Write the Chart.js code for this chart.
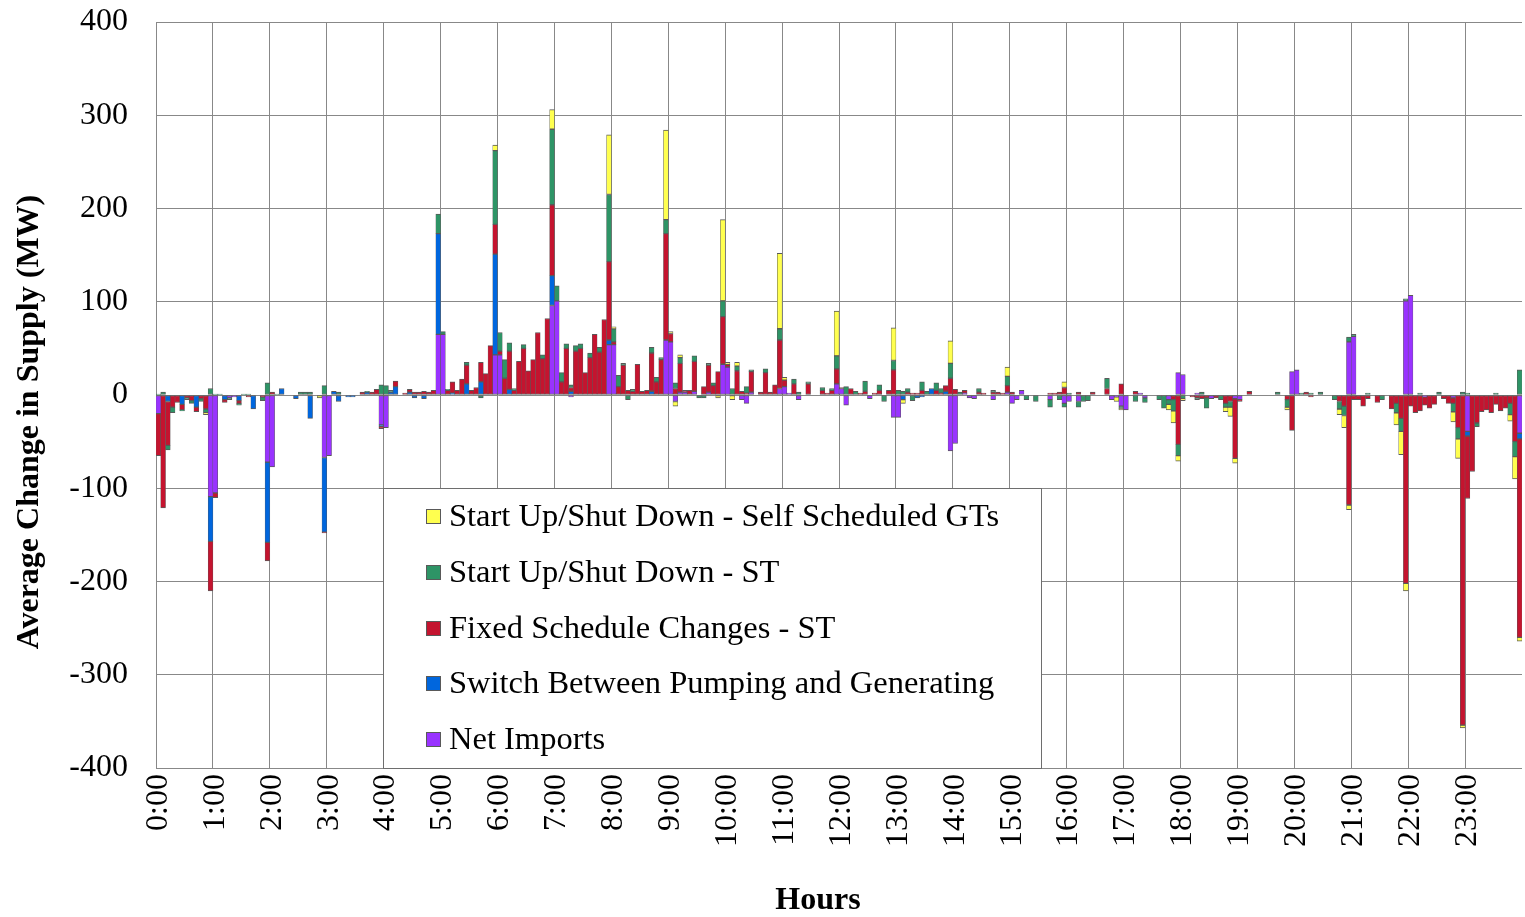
<!DOCTYPE html>
<html><head><meta charset="utf-8">
<script src="https://cdn.jsdelivr.net/npm/chart.js@4.4.1/dist/chart.umd.min.js"></script>
<style>html,body{margin:0;padding:0;background:#fff}#wrap{width:1525px;height:917px;position:relative}</style>
</head><body><div id="wrap"><canvas id="c"></canvas></div>
<script>
const hourLabels = ['0:00','1:00','2:00','3:00','4:00','5:00','6:00','7:00','8:00','9:00','10:00','11:00',
  '12:00','13:00','14:00','15:00','16:00','17:00','18:00','19:00','20:00','21:00','22:00','23:00'];

const seriesNames = ['Net Imports','Switch Between Pumping and Generating','Fixed Schedule Changes - ST',
  'Start Up/Shut Down - ST','Start Up/Shut Down - Self Scheduled GTs'];

// 5-minute values (MW), 12 per hour
const netImports = [
-20,0,0,0,0,0,0,0,0,0,0,-109,
-105,0,0,-3,-2,0,0,0,0,0,0,-72,
-77,0,0,0,0,0,0,0,0,0,0,-67,
-65,0,0,0,0,0,0,0,0,0,0,-32,
-35,0,0,0,0,0,0,0,0,0,0,65,
65,0,0,0,0,0,0,0,0,0,0,43,
43,0,0,0,0,0,0,0,0,0,0,96,
101,0,0,-2,0,0,0,0,0,0,0,54,
54,0,0,0,0,0,0,0,0,0,0,59,
57,-7,3,3,0,4,0,0,3,0,0,33,
30,0,0,-5,-9,3,0,0,0,0,0,7,
9,2,0,-5,0,0,0,0,0,0,0,12,
7,-11,0,0,0,0,-4,0,0,0,0,-24,
-24,0,0,0,0,0,0,0,0,0,0,-60,
-52,0,2,-3,-4,0,0,0,-5,0,0,3,
-9,-5,5,0,0,0,0,0,-5,0,0,-9,
-7,0,-7,0,0,0,0,0,0,-5,-2,-12,
-16,0,0,2,-3,0,0,0,0,-5,0,24,
22,0,0,2,0,0,-4,0,0,0,0,-4,
-5,0,0,0,0,0,0,0,0,0,0,25,
27,0,0,0,0,0,0,0,0,0,0,57,
63,0,0,0,0,0,0,0,0,0,0,101,
107,0,0,-2,0,0,0,0,0,-3,0,0,
-39,0,0,0,0,0,0,0,0,0,0,-41];

const pumpSwitch = [
0,0,-7,0,0,-10,0,0,-13,0,0,-48,
0,0,-5,0,0,-6,0,0,-15,0,0,-86,
0,0,7,0,0,-4,0,0,-25,0,0,-80,
0,4,-7,0,-2,-2,0,0,3,0,0,-2,
0,3,9,0,0,3,-3,0,-4,0,0,108,
0,0,2,0,0,12,0,0,14,0,0,108,
0,0,6,0,0,0,0,0,0,0,0,32,
0,0,0,4,0,0,0,0,0,0,0,5,
0,0,0,0,0,0,0,0,4,0,0,0,
0,0,0,0,0,0,0,0,0,0,0,0,
0,0,0,0,0,0,0,0,0,0,0,0,
0,0,0,0,0,0,0,0,0,0,0,0,
0,0,0,0,0,0,0,0,0,0,0,0,
0,-5,0,0,-3,-2,0,7,0,0,4,0,
0,0,0,0,0,0,0,0,0,0,0,0,
0,0,0,0,0,0,0,0,0,0,0,0,
0,0,0,0,0,0,0,0,0,0,0,0,
0,0,0,0,0,0,0,0,0,0,0,0,
0,0,0,0,0,0,0,0,0,0,0,0,
0,0,0,0,0,0,0,0,0,0,0,0,
0,0,0,0,0,0,0,0,0,0,0,0,
0,0,0,0,0,0,0,0,0,0,0,0,
0,0,0,0,0,0,0,0,0,0,0,0,
-5,0,0,0,0,0,0,0,0,0,0,-6];

const fixedST = [
-45,-121,-47,-13,-8,-6,-3,-6,-5,-4,-15,-53,
-5,0,-3,0,0,-3,0,-2,0,0,-2,-20,
3,0,0,0,0,0,0,0,0,0,0,-1,
0,0,0,0,0,0,0,3,0,3,6,-2,
0,0,6,0,2,3,3,3,4,3,5,0,
0,5,12,5,17,20,5,8,21,23,53,32,
4,18,41,5,36,50,26,38,67,39,82,76,
0,14,50,4,47,50,24,40,65,46,81,84,
3,9,32,5,4,33,4,5,41,14,38,114,
9,7,31,2,5,32,0,9,29,10,25,51,
3,0,26,4,2,22,0,3,24,3,11,52,
7,0,12,0,0,12,0,0,5,2,5,16,
1,0,7,0,2,4,0,2,5,0,5,27,
0,0,3,2,2,5,0,0,5,2,6,18,
6,0,3,0,0,3,2,0,3,3,2,7,
3,0,0,0,0,0,0,0,2,2,3,8,
0,0,3,0,0,3,0,0,7,0,0,12,
0,0,4,0,0,0,0,0,0,0,-5,-53,
0,0,-2,-3,-4,-3,0,-3,0,-9,-7,-64,
-2,0,4,0,0,0,0,0,0,0,-5,-38,
0,0,3,-2,0,0,0,0,0,-7,-12,-118,
-5,-5,-12,-4,0,-8,0,0,-15,-9,-25,-202,
-12,-19,-17,-9,-14,-10,0,-4,-9,-6,-35,-354,
-67,-82,-30,-18,-16,-19,-10,-17,-14,-9,-50,-213];

const startUpST = [
1,3,-5,-6,0,-1,-2,-3,0,-3,-4,7,
1,1,0,-2,0,-2,1,1,0,0,-4,13,
0,1,0,0,0,0,3,3,3,0,0,10,
0,0,3,0,0,0,0,0,1,0,0,11,
10,2,0,0,0,0,0,0,0,0,0,21,
3,1,0,0,0,3,0,0,-3,0,0,79,
20,20,9,2,0,4,0,0,0,4,0,81,
16,10,5,3,6,5,0,5,0,5,0,72,
14,12,2,-5,2,0,0,0,6,5,2,15,
0,6,6,0,0,6,-3,-3,2,3,0,17,
0,7,5,0,7,2,0,0,4,0,0,12,
0,0,5,3,0,2,0,0,3,0,2,14,
0,9,0,4,0,11,0,0,6,-7,0,10,
5,4,4,-6,0,9,4,0,8,5,0,16,
0,3,0,0,0,4,0,0,2,0,0,10,
0,0,0,-5,0,-7,0,0,-8,0,-5,-4,
2,0,-6,-7,-6,0,0,0,11,0,0,-2,
0,0,-7,0,-5,0,0,-5,-14,-5,-12,-12,
-4,0,0,-2,3,-11,0,0,-5,-4,-6,0,
0,0,0,0,0,0,0,0,3,0,-8,0,
0,2,0,2,0,3,0,0,-5,-8,-10,5,
2,0,0,2,0,0,-5,0,0,-10,-14,2,
0,0,2,0,0,0,3,0,0,-9,-12,3,
2,0,-4,0,0,0,2,0,0,-12,-16,27];

const selfSchedGT = [
0,0,0,0,0,0,0,0,0,0,-2,0,
0,0,0,0,0,0,0,0,0,0,0,0,
0,0,0,0,0,0,0,0,0,0,-3,0,
0,0,0,0,0,0,0,0,0,0,0,0,
0,0,0,0,0,0,0,0,0,0,0,0,
0,0,0,0,0,0,0,0,0,0,0,6,
0,0,0,0,0,0,0,0,0,0,0,21,
0,0,0,0,0,0,0,0,0,0,0,64,
2,0,0,0,0,0,0,0,0,0,0,96,
2,-5,3,0,0,0,0,0,0,0,-3,87,
2,-5,4,0,0,0,0,0,0,0,0,81,
3,0,0,0,0,0,0,0,0,0,0,48,
0,0,0,0,0,0,0,0,0,0,0,35,
0,-4,0,0,0,0,0,0,0,0,0,24,
0,0,0,0,0,0,0,0,0,0,0,10,
0,0,0,0,0,0,0,0,0,0,0,6,
0,0,0,0,0,0,0,0,0,0,-5,-2,
0,0,0,0,0,0,0,0,0,-6,-13,-6,
-2,0,0,0,0,0,0,0,0,-5,-10,-5,
0,0,0,0,0,0,0,0,0,0,-3,0,
0,0,0,0,0,0,0,0,0,-6,-13,-5,
0,0,0,0,0,0,0,0,0,-13,-25,-8,
0,0,0,0,0,0,0,0,0,-11,-21,-3,
0,0,0,0,0,0,0,0,0,-7,-24,-4];

const yTicks = [-400,-300,-200,-100,0,100,200,300,400];

const categories = [];
hourLabels.forEach(h => {
  const hh = h.split(':')[0];
  for (let m = 0; m < 60; m += 5) categories.push(hh + ':' + String(m).padStart(2, '0'));
});

const colors = ['#9933FF', '#0066DD', '#C4142F', '#2E9466', '#FFFF4F'];
const seriesData = [netImports, pumpSwitch, fixedST, startUpST, selfSchedGT];
const SERIF = "'Liberation Serif','Times New Roman',serif";

const datasets = seriesData.map((d, i) => ({
  label: seriesNames[i],
  data: d,
  backgroundColor: colors[i],
  borderColor: '#595959',
  borderWidth: {top: 1, bottom: 1, left: 0.5, right: 0.5},
  borderSkipped: false,
  categoryPercentage: 1,
  barPercentage: 1,
  stack: 's'
}));

const overlay = {
  id: 'overlay',
  afterDatasetsDraw(chart) {
    const {ctx, chartArea: a} = chart;
    const x0 = a.left + 227, y0 = a.top + 466, w = 658, h = a.bottom - y0;
    ctx.save();
    ctx.fillStyle = '#fff';
    ctx.fillRect(x0, y0, w, h);
    ctx.strokeStyle = '#6e6e6e';
    ctx.lineWidth = 1;
    ctx.strokeRect(x0 + 0.5, y0 + 0.5, w, h);
    ctx.font = '32.5px ' + SERIF;
    ctx.textBaseline = 'middle';
    ctx.textAlign = 'left';
    [4, 3, 2, 1, 0].forEach((di, r) => {
      const ds = chart.data.datasets[di];
      const cy = Math.round(y0 + 28 + r * 55.75);
      ctx.fillStyle = ds.backgroundColor;
      ctx.fillRect(x0 + 43, cy - 7, 15, 15);
      ctx.strokeStyle = '#595959';
      ctx.strokeRect(x0 + 43.5, cy - 6.5, 14, 14);
      ctx.fillStyle = '#000';
      ctx.fillText(ds.label, x0 + 66, cy + 1);
    });
    ctx.restore();
  },
  afterDraw(chart) {
    const {ctx} = chart;
    ctx.save();
    ctx.fillStyle = '#000';
    ctx.font = 'bold 32px ' + SERIF;
    ctx.textAlign = 'center';
    ctx.textBaseline = 'middle';
    ctx.fillText('Hours', 818, 901);
    ctx.translate(30, 422);
    ctx.rotate(-Math.PI / 2);
    ctx.fillText('Average Change in Supply (MW)', 0, 0);
    ctx.restore();
  }
};

new Chart(document.getElementById('c'), {
  type: 'bar',
  data: {labels: categories, datasets},
  options: {
    responsive: true,
    maintainAspectRatio: false,
    animation: false,
    devicePixelRatio: 1,
    layout: {padding: {left: 0, right: 3, top: 22, bottom: 0}},
    plugins: {legend: {display: false}, tooltip: {enabled: false}},
    scales: {
      x: {
        stacked: true,
        offset: true,
        afterFit(s) { s.height = 149; s.paddingLeft = 0; s.paddingRight = 0; s.paddingTop = 0; s.paddingBottom = 0; },
        grid: {
          offset: true,
          drawTicks: false,
          color: c => (c.index < categories.length && c.index % 12 === 0) ? '#888888' : 'rgba(0,0,0,0)',
          lineWidth: 1
        },
        border: {display: false},
        ticks: {
          autoSkip: false,
          minRotation: 90,
          maxRotation: 90,
          padding: 6,
          color: '#000',
          font: {family: SERIF, size: 32},
          callback: (v, i) => (i % 12 === 0 ? hourLabels[i / 12] : '')
        }
      },
      y: {
        stacked: true,
        min: -400,
        max: 400,
        afterFit(s) { s.width = 156; s.paddingTop = 0; s.paddingBottom = 0; s.paddingLeft = 0; s.paddingRight = 0; },
        afterBuildTicks(s) { s.ticks = yTicks.map(v => ({value: v})); },
        grid: {color: '#888888', drawTicks: false, lineWidth: 1},
        border: {display: true, color: '#888888'},
        ticks: {
          padding: 28,
          color: '#000',
          font: {family: SERIF, size: 32}
        }
      }
    }
  },
  plugins: [overlay]
});
</script>
</body></html>
